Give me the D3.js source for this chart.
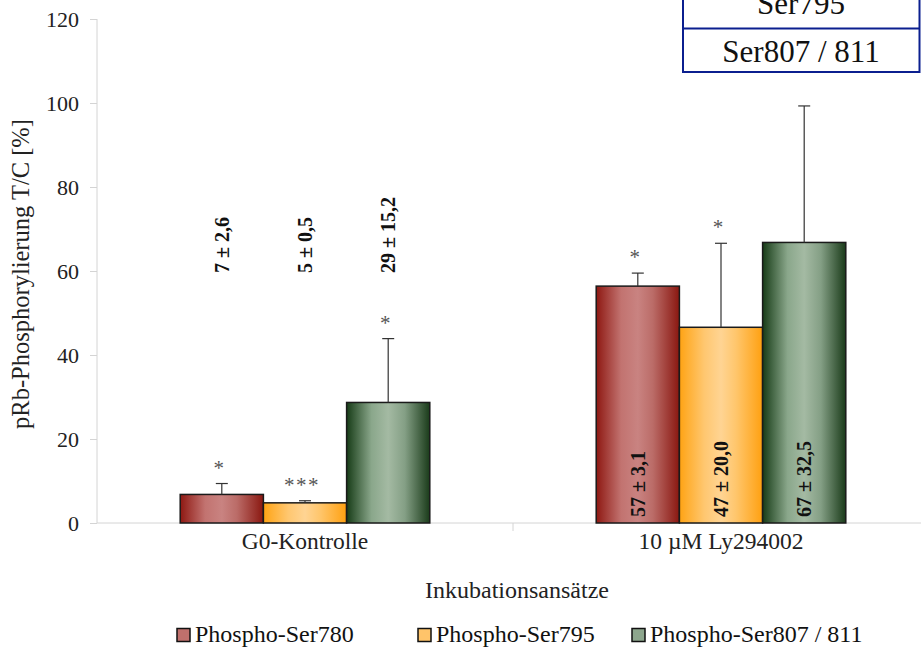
<!DOCTYPE html>
<html>
<head>
<meta charset="utf-8">
<script src="https://cdn.jsdelivr.net/npm/d3@7/dist/d3.min.js"></script>
<style>
  html, body { margin: 0; padding: 0; background: #fff; }
  svg { display: block; font-family: "Liberation Serif", "Times New Roman", serif; }
</style>
</head>
<body>
<svg id="chart" width="921" height="649"></svg>
<script>
// ---- data ----
const categories = ["G0-Kontrolle", "10 µM Ly294002"];
const seriesNames = ["Phospho-Ser780", "Phospho-Ser795", "Phospho-Ser807 / 811"];
const ser780 = [6.8, 56.4];
const ser795 = [4.8, 46.6];
const ser807 = [28.7, 66.8];
const err780 = [2.6, 3.1];
const err795 = [0.5, 20.0];
const err807 = [15.2, 32.5];
const labels780 = ["7 ± 2,6", "57 ± 3,1"];
const labels795 = ["5 ± 0,5", "47 ± 20,0"];
const labels807 = ["29 ± 15,2", "67 ± 32,5"];
const stars780 = ["*", "*"];
const stars795 = ["***", "*"];
const stars807 = ["*", ""];
const yTicks = [0, 20, 40, 60, 80, 100, 120];
const tableRows = ["Ser795", "Ser807 / 811"];

// ---- setup ----
const svg = d3.select("#chart");
const W = 921, H = 649;
const plot = { left: 97, right: 929, top: 19, bottom: 523 };

const y = d3.scaleLinear().domain([0, 120]).range([plot.bottom, plot.top]);
const x0 = d3.scaleBand().domain(categories).range([plot.left, plot.right]).padding(0);
const bw = x0.bandwidth();
const x1 = d3.scaleBand().domain(seriesNames).range([bw * 0.2, bw * 0.8]).padding(0);

const vals = [ser780, ser795, ser807];
const errs = [err780, err795, err807];
const labs = [labels780, labels795, labels807];
const stars = [stars780, stars795, stars807];

const rows = [];
categories.forEach((c, ci) => {
  seriesNames.forEach((s, si) => {
    rows.push({ cat: c, ci, series: s, si, v: vals[si][ci], e: errs[si][ci], lab: labs[si][ci], star: stars[si][ci] });
  });
});

// gradients
const defs = svg.append("defs");
const grads = [
  { id: "g0", stops: [["0%", "#8e1812"], ["30%", "#c27370"], ["50%", "#c98381"], ["68%", "#bb6c68"], ["100%", "#8a1710"]] },
  { id: "g1", stops: [["0%", "#ffa313"], ["30%", "#ffc770"], ["50%", "#ffd493"], ["68%", "#ffc66c"], ["100%", "#ffa010"]] },
  { id: "g2", stops: [["0%", "#173c17"], ["30%", "#8aa78b"], ["50%", "#a4baa3"], ["70%", "#849f85"], ["100%", "#1a3b1a"]] }
];
grads.forEach(g => {
  const lg = defs.append("linearGradient").attr("id", g.id).attr("x1", "0%").attr("x2", "100%").attr("y1", "0%").attr("y2", "0%");
  g.stops.forEach(s => lg.append("stop").attr("offset", s[0]).attr("stop-color", s[1]));
});
const legendFill = ["#c0706c", "#ffc46a", "#8da68d"];

svg.append("rect").attr("width", W).attr("height", H).attr("fill", "#fff");

// axes
const axisColor = "#d4d4d4";
const textColor = "#222";
const yAxis = svg.append("g").attr("transform", `translate(${plot.left},0)`)
  .call(d3.axisLeft(y).tickValues(yTicks).tickSize(7).tickPadding(11));
yAxis.select(".domain").attr("stroke", axisColor).attr("d", `M-0,${plot.bottom}V${plot.top}`);
yAxis.selectAll(".tick line").attr("stroke", axisColor);
yAxis.selectAll(".tick text").attr("font-size", 22).attr("fill", textColor).attr("font-family", "Liberation Serif");

const xAxis = svg.append("g").attr("transform", `translate(0,${plot.bottom})`)
  .call(d3.axisBottom(x0).tickSize(0).tickPadding(26));
xAxis.select(".domain").attr("stroke", axisColor).attr("d", `M${plot.left},0H${W}`);
xAxis.selectAll(".tick text").attr("font-size", 23.5).attr("fill", textColor).attr("font-family", "Liberation Serif").attr("dy", 0);
// boundary tick between categories
xAxis.append("line").attr("x1", x0(categories[1])).attr("x2", x0(categories[1]))
  .attr("y1", 0).attr("y2", 8).attr("stroke", axisColor);

// bars
const bars = svg.append("g");
bars.selectAll("rect").data(rows).join("rect")
  .attr("x", d => x0(d.cat) + x1(d.series))
  .attr("y", d => y(d.v))
  .attr("width", x1.bandwidth())
  .attr("height", d => y(0) - y(d.v))
  .attr("fill", d => `url(#g${d.si})`)
  .attr("stroke", "#1a1a1a").attr("stroke-width", 1.5);

// error bars
const eb = svg.append("g").attr("stroke", "#333").attr("stroke-width", 1.2);
rows.forEach(d => {
  const cx = x0(d.cat) + x1(d.series) + x1.bandwidth() / 2;
  eb.append("line").attr("x1", cx).attr("x2", cx).attr("y1", y(d.v)).attr("y2", y(d.v + d.e));
  eb.append("line").attr("x1", cx - 6).attr("x2", cx + 6).attr("y1", y(d.v + d.e)).attr("y2", y(d.v + d.e));
});

// significance stars
svg.append("g").selectAll("text").data(rows.filter(d => d.star)).join("text")
  .attr("x", d => x0(d.cat) + x1(d.series) + x1.bandwidth() / 2 - 3)
  .attr("y", d => y(d.v + d.e) - 9)
  .attr("text-anchor", "middle")
  .attr("font-size", 21).attr("fill", "#555")
  .attr("letter-spacing", d => d.star.length > 1 ? 1.5 : 0)
  .text(d => d.star);

// value labels (rotated)
svg.append("g").selectAll("text").data(rows).join("text")
  .attr("transform", d => {
    const cx = x0(d.cat) + x1(d.series) + x1.bandwidth() / 2 + 7;
    const yy = d.ci === 0 ? y(59.5) : y(0) - 6;
    return `translate(${cx},${yy}) rotate(-90)`;
  })
  .attr("text-anchor", "start")
  .attr("font-size", 20).attr("font-weight", "bold").attr("fill", "#111")
  .text(d => d.lab);

// axis titles
svg.append("text").attr("transform", `translate(29,274) rotate(-90)`)
  .attr("text-anchor", "middle").attr("font-size", 24.5).attr("fill", textColor)
  .text("pRb-Phosphorylierung T/C [%]");
svg.append("text").attr("x", 517).attr("y", 598).attr("text-anchor", "middle")
  .attr("font-size", 24).attr("fill", textColor).text("Inkubationsansätze");

// legend
const legendX = [177, 418, 632];
const lg = svg.append("g");
seriesNames.forEach((s, i) => {
  lg.append("rect").attr("x", legendX[i]).attr("y", 628.5).attr("width", 13).attr("height", 13)
    .attr("fill", legendFill[i]).attr("stroke", "#111").attr("stroke-width", 1.5);
  lg.append("text").attr("x", legendX[i] + 18).attr("y", 642).attr("font-size", 24).attr("fill", "#111").text(s);
});

// table in top-right corner
const tb = svg.append("g");
tb.append("rect").attr("x", 683).attr("y", -20).attr("width", 236.5).attr("height", 92)
  .attr("fill", "#fff").attr("stroke", "#0b1f8f").attr("stroke-width", 2);
tb.append("line").attr("x1", 683).attr("x2", 919.5).attr("y1", 28.5).attr("y2", 28.5)
  .attr("stroke", "#0b1f8f").attr("stroke-width", 2);
tb.selectAll("text").data(tableRows).join("text")
  .attr("x", 801).attr("y", (d, i) => i === 0 ? 14 : 62)
  .attr("text-anchor", "middle").attr("font-size", 31).attr("fill", "#111").text(d => d);
</script>
</body>
</html>
